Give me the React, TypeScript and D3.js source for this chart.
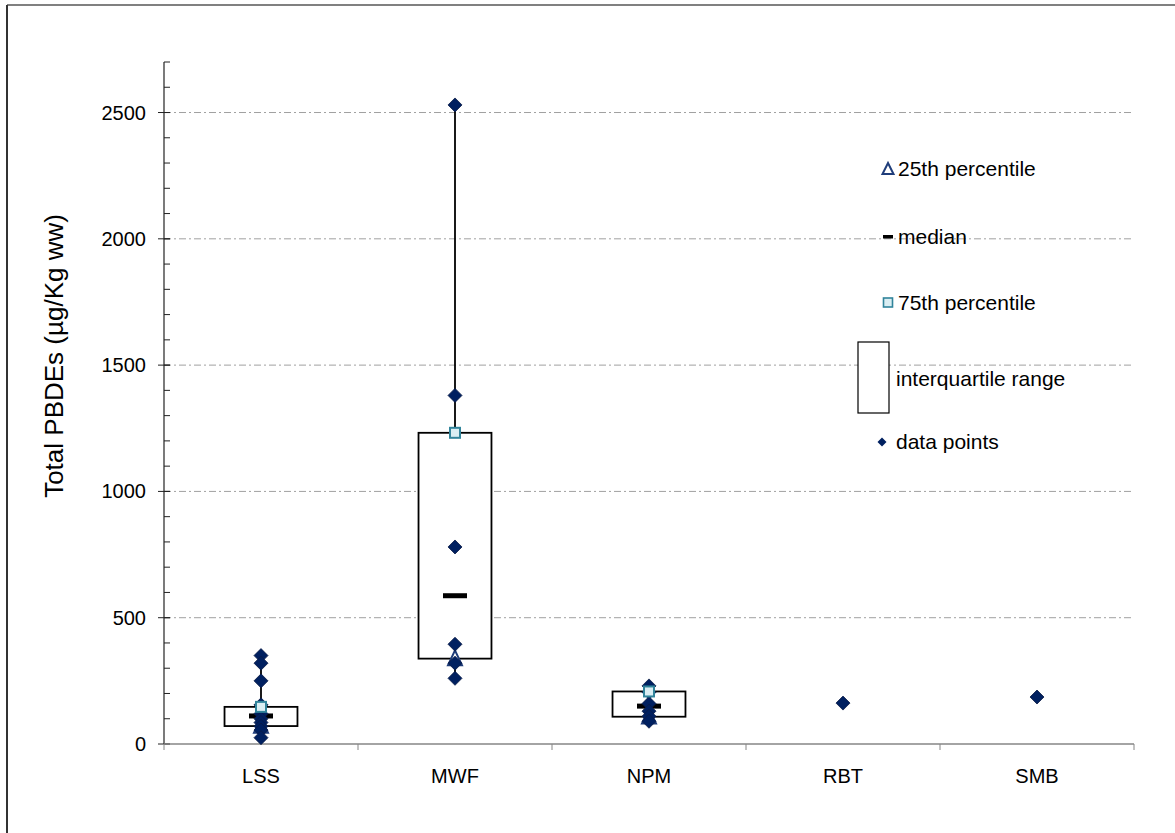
import React from 'react';
import * as d3 from 'd3';

// species groups on the x axis
const categories = ['LSS', 'MWF', 'NPM', 'RBT', 'SMB'];

// individual samples, µg/Kg ww
const lssPoints = [350, 320, 250, 155, 120, 100, 85, 70, 55, 25];
const mwfPoints = [2530, 1380, 780, 395, 320, 260];
const npmPoints = [230, 205, 160, 130, 110, 90];
const rbtPoints = [162];
const smbPoints = [186];

// percentiles per group (null where only one sample)
const p25 = [71, 338, 108, null, null];
const medians = [111, 587, 150, null, null];
const p75 = [147, 1232, 208, null, null];

const yTicks = [0, 500, 1000, 1500, 2000, 2500];
const yMinorTicks = d3.range(0, 2701, 100);

const W = 1175;
const H = 833;
const font = '"Liberation Sans", Arial, sans-serif';

const navy = '#002060';
const triStroke = '#1f3d7a';
const sqStroke = '#31849b';
const sqFill = '#daeef3';

const diamond = (r: number) => `M0,${-r}L${r},0L0,${r}L${-r},0Z`;
const triangle = (w: number, h: number) => `M0,${-h * 0.55}L${w / 2},${h * 0.45}L${-w / 2},${h * 0.45}Z`;

export default function App() {
  const pointsBy = [lssPoints, mwfPoints, npmPoints, rbtPoints, smbPoints];

  const x = d3.scaleBand<string>().domain(categories).range([164, 1134]).padding(0);
  const y = d3.scaleLinear().domain([0, 2700]).range([744, 62]);
  const cx = (c: string) => (x(c) as number) + x.bandwidth() / 2;
  const boxW = x.bandwidth() * 0.376;

  return (
    <svg width={W} height={H} style={{ position: 'absolute', left: 0, top: 0, background: '#fff' }} fontFamily={font}>
      {/* outer chart frame (only top/left visible) */}
      <line x1={7} x2={W} y1={5} y2={5} stroke="#808080" strokeWidth={2} />
      <line x1={7} x2={7} y1={5} y2={H} stroke="#333" strokeWidth={2} />

      {/* gridlines */}
      {yTicks.filter(t => t > 0).map(t => (
        <line key={'g' + t} x1={164} x2={1134} y1={y(t)} y2={y(t)} stroke="#a0a0a0" strokeWidth={1} strokeDasharray="7,3,2,3" />
      ))}

      {/* y axis */}
      <line x1={164} x2={164} y1={y(2700)} y2={y(0)} stroke="#222" strokeWidth={1.2} />
      {yMinorTicks.map(t => (
        <line key={'m' + t} x1={164} x2={170} y1={y(t)} y2={y(t)} stroke="#222" strokeWidth={1} />
      ))}
      {yTicks.map(t => (
        <g key={'t' + t}>
          <line x1={158} x2={170} y1={y(t)} y2={y(t)} stroke="#222" strokeWidth={1} />
          <text x={146} y={y(t)} dy="0.35em" textAnchor="end" fontSize={20} fill="#000">{t}</text>
        </g>
      ))}
      <text transform="translate(54,356) rotate(-90)" textAnchor="middle" dy="0.35em" fontSize={26} fill="#000">
        Total PBDEs  (µg/Kg ww)
      </text>

      {/* x axis */}
      <line x1={164} x2={1134} y1={y(0)} y2={y(0)} stroke="#868686" strokeWidth={1.5} />
      {categories.concat(['_end']).map((c, i) => {
        const xx = i < categories.length ? (x(c) as number) : 1134;
        return <line key={'xt' + i} x1={xx} x2={xx} y1={y(0)} y2={y(0) + 6} stroke="#868686" strokeWidth={1} />;
      })}
      {categories.map(c => (
        <text key={'xl' + c} x={cx(c)} y={783} textAnchor="middle" fontSize={20} fill="#000">{c}</text>
      ))}

      {/* whiskers */}
      {categories.map((c, i) => {
        const pts = pointsBy[i];
        if (pts.length < 2) return null;
        return <line key={'w' + c} x1={cx(c)} x2={cx(c)} y1={y(d3.max(pts) as number)} y2={y(d3.min(pts) as number)} stroke="#000" strokeWidth={1.8} />;
      })}

      {/* boxes */}
      {categories.map((c, i) => {
        if (p25[i] == null || p75[i] == null) return null;
        return (
          <rect key={'b' + c} x={cx(c) - boxW / 2} y={y(p75[i] as number)} width={boxW} height={y(p25[i] as number) - y(p75[i] as number)}
            fill="#fff" stroke="#000" strokeWidth={1.8} />
        );
      })}

      {/* medians */}
      {categories.map((c, i) => medians[i] == null ? null : (
        <rect key={'md' + c} x={cx(c) - 12} y={y(medians[i] as number) - 2.5} width={24} height={5} fill="#000" />
      ))}

      {/* 25th percentile */}
      {categories.map((c, i) => p25[i] == null ? null : (
        <path key={'q1' + c} d={triangle(14, 15)} transform={`translate(${cx(c)},${y(p25[i] as number)})`} fill="#fff" stroke={triStroke} strokeWidth={2} />
      ))}

      {/* data points */}
      {categories.map((c, i) => pointsBy[i].map((v, j) => (
        <path key={'p' + c + j} d={diamond(7)} transform={`translate(${cx(c)},${y(v)})`} fill={navy} stroke="#0a1a45" strokeWidth={0.8} />
      )))}

      {/* 75th percentile */}
      {categories.map((c, i) => p75[i] == null ? null : (
        <rect key={'q3' + c} x={cx(c) - 5} y={y(p75[i] as number) - 5} width={10} height={10} fill={sqFill} stroke={sqStroke} strokeWidth={2} />
      ))}

      {/* legend */}
      <g fontSize={21} fill="#000">
        <path d={triangle(11, 11)} transform="translate(888,169)" fill="#fff" stroke={triStroke} strokeWidth={2} />
        <text x={898} y={169} dy="0.35em">25th percentile</text>

        <rect x={883} y={235} width={10} height={3.5} fill="#000" />
        <text x={898} y={237} dy="0.35em">median</text>

        <rect x={883.5} y={298} width={9} height={9} fill={sqFill} stroke={sqStroke} strokeWidth={1.6} />
        <text x={898} y={303} dy="0.35em">75th percentile</text>

        <rect x={858} y={342} width={31} height={71} fill="#fff" stroke="#000" strokeWidth={1.2} />
        <text x={896} y={379} dy="0.35em">interquartile range</text>

        <path d={diamond(4.5)} transform="translate(882,442)" fill={navy} />
        <text x={896} y={442} dy="0.35em">data points</text>
      </g>
    </svg>
  );
}
